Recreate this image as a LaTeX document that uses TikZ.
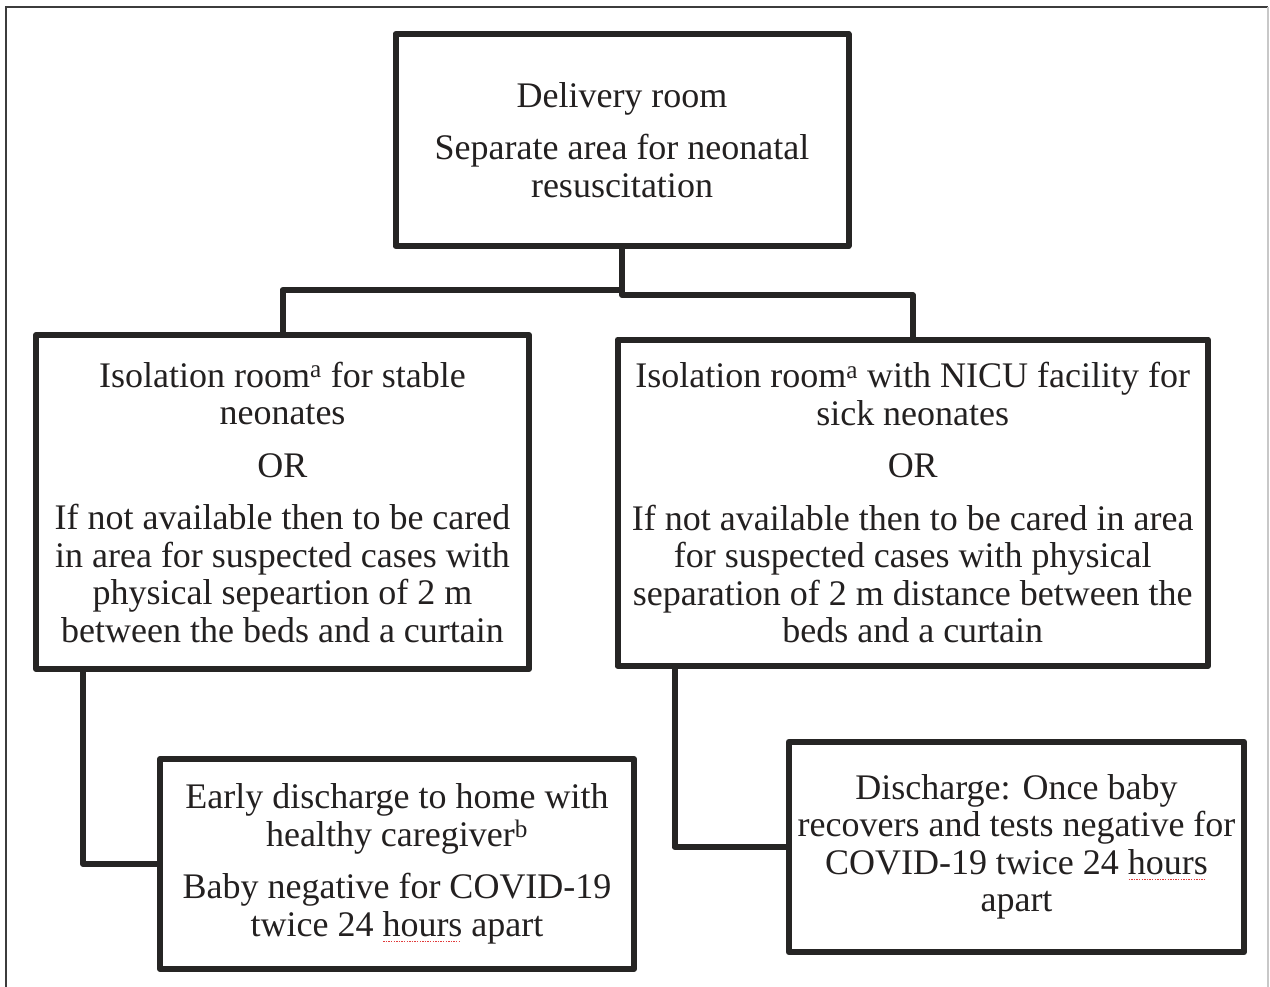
\documentclass[tikz,border=0pt]{standalone}
\usepackage{fontspec}
\setmainfont{Liberation Serif}
\usetikzlibrary{calc}
\definecolor{linec}{RGB}{38,37,36}
\definecolor{textc}{RGB}{35,32,32}
\definecolor{framed}{RGB}{60,60,60}
\definecolor{framel}{RGB}{200,200,200}
\definecolor{spellred}{RGB}{225,60,60}
\newcommand\spellwave[1]{\setbox0\hbox{#1}\leavevmode\rlap{\raisebox{-6pt}{\textcolor{spellred}{\hbox to \wd0{\leaders\hbox to 2.6pt{\hss\rule{1.4pt}{1pt}\hss}\hfill}}}}\box0\relax}
\tikzset{
  box/.style={draw=linec, line width=6pt, line join=round, rectangle, inner sep=0pt,
    align=center, text=textc, font=\fontsize{36}{37.5}\selectfont},
  conn/.style={draw=linec, line width=6pt, line join=round}
}
\begin{document}
\begin{tikzpicture}[x=1pt,y=-1pt]
\useasboundingbox (0,0) rectangle (1270,987);
% outer frame
\draw[framed, line width=2pt] (6,987) -- (6,7) -- (1268,7);
\draw[framel, line width=1.2pt] (1268,7) -- (1268,987);

\node[box, minimum width=453pt, minimum height=212pt] (top) at (622,140)
  {Delivery room\\[15pt] Separate area for neonatal\\ resuscitation};
\node[box, minimum width=493pt, minimum height=334pt] (lmid) at (282.5,502)
  {Isolation room\textsuperscript{a} for stable\\ neonates\\[15pt] OR\\[15pt]
   If not available then to be cared\\ in area for suspected cases with\\
   physical sepeartion of 2 m\\ between the beds and a curtain};
\node[box, minimum width=590.5pt, minimum height=326.5pt] (rmid) at (912.75,502.75)
  {Isolation room\textsuperscript{a} with NICU facility for\\ sick neonates\\[15pt] OR\\[15pt]
   If not available then to be cared in area\\ for suspected cases with physical\\
   separation of 2 m distance between the\\ beds and a curtain};
\node[box, minimum width=474pt, minimum height=210pt] (bl) at (397,864)
  {Early discharge to home with\\ healthy caregiver\textsuperscript{b}\\[15pt]
   Baby negative for COVID-19\\ twice 24 \spellwave{hours} apart};
\node[box, minimum width=455pt, minimum height=210.5pt] (br) at (1016.5,847)
  {Discharge: Once baby\\ recovers and tests negative for\\ COVID-19 twice 24 \spellwave{hours}\\ apart};

\coordinate (jl) at (622.5,290);
\coordinate (jr) at (622.5,295);
\draw[conn] (top.south) -- (top.south |- jr) -| (rmid.north);
\draw[conn] (lmid.north) |- (jl);
\draw[conn] ([xshift=50pt]lmid.south west) |- (bl.west);
\draw[conn] ([xshift=60pt]rmid.south west) |- (br.west);
\end{tikzpicture}
\end{document}
